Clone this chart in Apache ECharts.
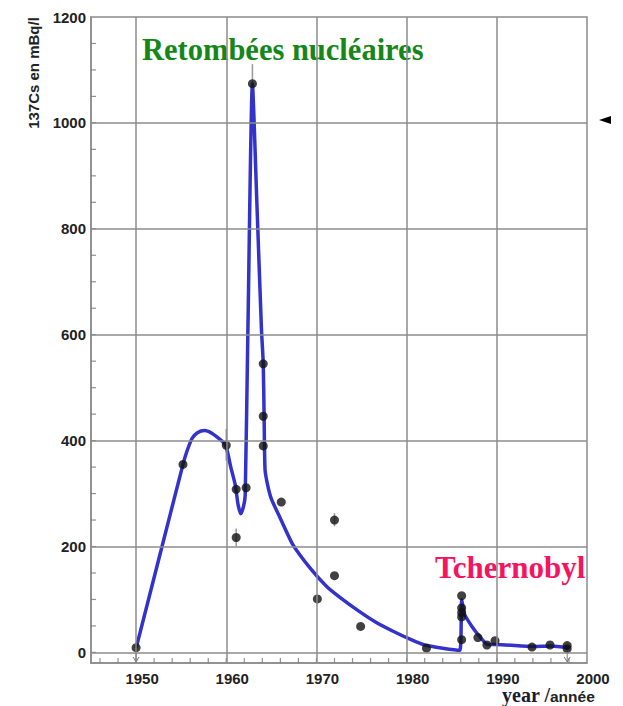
<!DOCTYPE html>
<html><head><meta charset="utf-8">
<script src="https://cdn.jsdelivr.net/npm/echarts@6/dist/echarts.min.js"></script>
<style>html,body{margin:0;padding:0;background:#fff}#c{width:623px;height:706px}</style>
</head><body><div id="c"></div>
<script>
// fitted curve (blue)
const curveYears = [1950.0, 1952.5, 1955.2, 1955.6, 1956.2, 1956.8, 1957.6, 1958.4, 1959.1, 1959.6, 1960.0, 1960.5, 1961.0, 1961.3, 1961.6, 1961.9, 1962.1, 1962.4, 1962.9, 1963.4, 1963.9, 1964.1, 1964.2, 1964.3, 1964.6, 1965.0, 1966.0, 1967.4, 1969.3, 1971.1, 1972.6, 1974.7, 1976.5, 1978.5, 1980.5, 1982.0, 1984.0, 1985.9, 1986.1, 1986.4, 1987.2, 1988.2, 1989.0, 1990.0, 1994.0, 1996.0, 1998.0];
const curveValues = [8, 175, 355, 378, 404, 415, 419, 414, 405, 398, 388, 350, 316, 280, 262, 275, 297, 611, 1074, 846, 611, 545, 440, 345, 315, 290, 253, 203, 159, 125, 104, 78, 58, 40, 24, 14, 8, 4, 100, 73, 50, 28, 15, 15, 11, 12, 9];
// measured points
const pointYears = [1950.0, 1955.2, 1960.0, 1961.1, 1962.2, 1961.1, 1962.9, 1964.1, 1964.1, 1964.1, 1966.1, 1970.1, 1972.0, 1972.0, 1974.9, 1982.2, 1986.1, 1986.1, 1986.1, 1986.1, 1986.1, 1987.9, 1988.9, 1989.8, 1993.9, 1995.9, 1997.8, 1997.8];
const pointValues = [9, 355, 391, 308, 311, 217, 1074, 545, 446, 390, 284, 101, 250, 145, 49, 8, 107, 84, 75, 67, 24, 28, 14, 22, 10, 14, 13, 7];
// error bars
const errYears = [1960.0, 1961.1, 1962.9, 1972.0];
const errLow = [362, 200, 1074, 238];
const errHigh = [422, 234, 1111, 263];
// detection-limit arrows
const limitYears = [1950.0, 1997.8];
const limitValues = [9, 7];
// ticks and grid lines
const xTickLabels = [1950, 1960, 1970, 1980, 1990, 2000];
const xGridLines = [1950, 1960, 1970, 1980, 1990];
const xMinorTicks = [1946,1948,1950,1952,1954,1956,1958,1960,1962,1964,1966,1968,1970,1972,1974,1976,1978,1980,1982,1984,1986,1988,1990,1992,1994,1996,1998];
const yTickLabels = [0, 200, 400, 600, 800, 1000, 1200];
const yGridLines = [0, 200, 400, 600, 800, 1000];
const yMinorTicks = [0,50,100,150,200,250,300,350,400,450,500,550,600,650,700,750,800,850,900,950,1000,1050,1100,1150];
const X_MIN = 1945, X_MAX = 2000, Y_MIN = -20, Y_MAX = 1200;

const GRAY = '#8c8c8c';
const labelStyle = {fontFamily: '"Liberation Sans", Arial, sans-serif', fontWeight: 'bold', fontSize: 15, color: '#222', formatter: v => String(v)};

const chart = echarts.init(document.getElementById('c'), null, {renderer: 'svg'});
chart.setOption({
  animation: false,
  backgroundColor: '#fff',
  grid: {left: 91, right: 36, top: 17, bottom: 43, show: true, borderColor: GRAY, borderWidth: 1.5, containLabel: false},
  xAxis: {type: 'value', position: 'bottom', min: X_MIN, max: X_MAX,
     axisLine: {show: true, onZero: false, lineStyle: {color: GRAY, width: 1.5}},
     axisTick: {show: false},
     axisLabel: Object.assign({customValues: xTickLabels, margin: 8, padding: [0, 0, 0, 12]}, labelStyle),
     splitLine: {show: false}},
  yAxis: {type: 'value', position: 'left', min: Y_MIN, max: Y_MAX,
     axisLine: {show: true, onZero: false, lineStyle: {color: GRAY, width: 1.5}},
     axisTick: {show: false},
     axisLabel: Object.assign({customValues: yTickLabels, margin: 5}, labelStyle),
     splitLine: {show: false}},
  series: [
    {type: 'line', data: [], z: 0, silent: true,
     markLine: {silent: true, symbol: ['none', 'none'], label: {show: false},
       lineStyle: {color: GRAY, width: 1.5, type: 'solid'}, emphasis: {disabled: true},
       data: xGridLines.map(v => ({xAxis: v})).concat(yGridLines.map(v => ({yAxis: v})))}},
    // minor ticks on the bottom frame (inside)
    {type: 'scatter', z: 1, silent: true, clip: false,
     data: xMinorTicks.map(v => [v, Y_MIN]),
     symbol: 'rect', symbolSize: [1.2, 5], symbolOffset: [0, -2.5], itemStyle: {color: '#777'}},
    // minor ticks on the left axis (inside)
    {type: 'scatter', z: 1, silent: true, clip: false,
     data: yMinorTicks.map(v => [X_MIN, v]),
     symbol: 'rect', symbolSize: [5, 1.2], symbolOffset: [2.5, 0], itemStyle: {color: '#777'}},
    {type: 'custom', z: 1, encode: {x: 0, y: [1, 2]},
     data: errYears.map((y, i) => [y, errLow[i], errHigh[i]]),
     renderItem: function (params, api) {
       const a = api.coord([api.value(0), api.value(1)]);
       const b = api.coord([api.value(0), api.value(2)]);
       return {type: 'line', shape: {x1: a[0], y1: a[1], x2: b[0], y2: b[1]}, style: {stroke: '#999', lineWidth: 1.5}};
     }},
    {type: 'custom', z: 1, encode: {x: 0, y: 1},
     data: limitYears.map((y, i) => [y, limitValues[i]]),
     renderItem: function (params, api) {
       const a = api.coord([api.value(0), api.value(1)]);
       const t = api.coord([api.value(0), -18]);
       return {type: 'group', children: [
         {type: 'line', shape: {x1: a[0], y1: a[1], x2: t[0], y2: t[1]}, style: {stroke: '#777', lineWidth: 1}},
         {type: 'polyline', shape: {points: [[t[0] - 3, t[1] - 5], [t[0], t[1]], [t[0] + 3, t[1] - 5]]}, style: {stroke: '#777', lineWidth: 1, fill: null}}
       ]};
     }},
    {type: 'line', z: 2,
     data: curveYears.map((y, i) => [y, curveValues[i]]),
     showSymbol: false, smooth: 0.2,
     lineStyle: {color: '#3333cc', width: 3.5}},
    {type: 'scatter', z: 3,
     data: pointYears.map((y, i) => [y, pointValues[i]]),
     symbol: 'circle', symbolSize: 9, itemStyle: {color: '#111'}}
  ],
  graphic: [
    {type: 'text', x: 33, y: 73, rotation: Math.PI / 2,
     style: {text: '137Cs en mBq/l', font: 'bold 15px "Liberation Sans", Arial, sans-serif', fill: '#222', align: 'center', verticalAlign: 'middle', textAlign: 'center', textVerticalAlign: 'middle'}},
    {type: 'text', x: 142, y: 50,
     style: {text: 'Retombées nucléaires', font: 'bold 30.5px "Liberation Serif", "Times New Roman", serif', fill: '#15871a', align: 'left', verticalAlign: 'middle', textAlign: 'left', textVerticalAlign: 'middle'}},
    {type: 'text', x: 435, y: 567,
     style: {text: 'Tchernobyl', font: 'bold 31px "Liberation Serif", "Times New Roman", serif', fill: '#f5145f', align: 'left', verticalAlign: 'middle', textAlign: 'left', textVerticalAlign: 'middle'}},
    {type: 'text', x: 502, y: 695,
     style: {text: 'year /', font: 'bold 20px "Liberation Serif", "Times New Roman", serif', fill: '#1a1a33', align: 'left', verticalAlign: 'middle', textAlign: 'left', textVerticalAlign: 'middle'}},
    {type: 'text', x: 550, y: 696,
     style: {text: 'année', font: 'bold 15.5px "Liberation Sans", Arial, sans-serif', fill: '#222', align: 'left', verticalAlign: 'middle', textAlign: 'left', textVerticalAlign: 'middle'}},
    {type: 'polygon', shape: {points: [[599, 120], [611, 116], [611, 124]]}, style: {fill: '#000'}}
  ]
});
</script>
</body></html>
